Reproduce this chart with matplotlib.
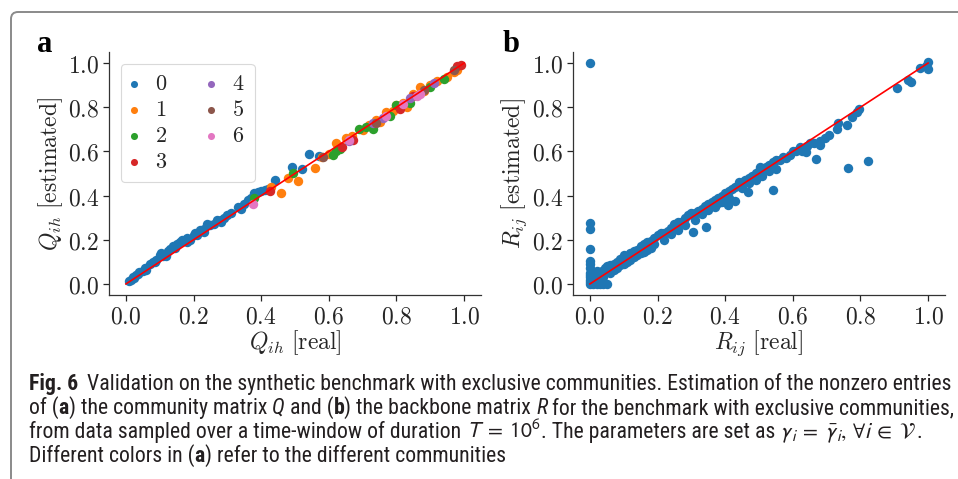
import matplotlib
matplotlib.use('Agg')
import matplotlib.pyplot as plt
from matplotlib.patches import FancyBboxPatch
from matplotlib.transforms import IdentityTransform
from matplotlib.ticker import FuncFormatter
from matplotlib import font_manager as fm

plt.rcParams['mathtext.fontset'] = 'cm'

# ---------------- data ----------------
ticks = [0.0, 0.2, 0.4, 0.6, 0.8, 1.0]
communities = ['0', '1', '2', '3', '4', '5', '6']
comm_colors = ['#1f77b4', '#ff7f0e', '#2ca02c', '#d62728', '#9467bd', '#8c564b', '#e377c2']

q0_real = [0.01, 0.015, 0.02, 0.025, 0.03, 0.035, 0.04, 0.05, 0.055, 0.06, 0.07, 0.08, 0.085,
           0.09, 0.10, 0.105, 0.11, 0.12, 0.125, 0.13, 0.14, 0.145, 0.15, 0.16, 0.165, 0.17,
           0.18, 0.19, 0.20, 0.205, 0.21, 0.22, 0.225, 0.23, 0.24, 0.25, 0.26, 0.27, 0.28,
           0.29, 0.30, 0.31, 0.33, 0.34, 0.35, 0.36, 0.37, 0.38, 0.39, 0.40, 0.41, 0.42,
           0.44, 0.49, 0.52, 0.54, 0.57, 0.12, 0.18, 0.23, 0.06, 0.28]
q0_est = [0.012, 0.02, 0.03, 0.025, 0.04, 0.045, 0.055, 0.06, 0.07, 0.07, 0.09, 0.10, 0.10,
          0.11, 0.13, 0.14, 0.125, 0.135, 0.15, 0.16, 0.17, 0.165, 0.18, 0.19, 0.20, 0.195,
          0.21, 0.20, 0.22, 0.23, 0.22, 0.245, 0.24, 0.25, 0.27, 0.265, 0.27, 0.29, 0.29,
          0.30, 0.31, 0.32, 0.35, 0.34, 0.36, 0.38, 0.39, 0.41, 0.415, 0.42, 0.425, 0.43,
          0.47, 0.53, 0.52, 0.59, 0.58, 0.125, 0.19, 0.235, 0.065, 0.28]
q1_real = [0.43, 0.46, 0.48, 0.51, 0.56, 0.58, 0.60, 0.62, 0.63, 0.65, 0.67, 0.70, 0.72, 0.74,
           0.75, 0.77, 0.79, 0.80, 0.82, 0.83, 0.85, 0.87, 0.88, 0.90, 0.92, 0.95, 0.97, 0.98]
q1_est = [0.44, 0.41, 0.478, 0.467, 0.526, 0.575, 0.59, 0.636, 0.62, 0.66, 0.67, 0.695, 0.72,
          0.74, 0.735, 0.78, 0.785, 0.81, 0.82, 0.80, 0.86, 0.89, 0.875, 0.90, 0.92, 0.935,
          0.96, 0.97]
q2_real = [0.38, 0.495, 0.613, 0.633, 0.62, 0.69, 0.73, 0.78, 0.80, 0.84, 0.90, 0.94, 0.71]
q2_est = [0.39, 0.50, 0.584, 0.609, 0.60, 0.70, 0.70, 0.76, 0.81, 0.82, 0.89, 0.93, 0.71]
q3_real = [0.426, 0.638, 0.672, 0.81, 0.85, 0.98, 0.99]
q3_est = [0.42, 0.621, 0.652, 0.79, 0.85, 0.985, 0.99]
q4_real = [0.66, 0.73, 0.76, 0.84, 0.91]
q4_est = [0.645, 0.73, 0.75, 0.84, 0.91]
q5_real = [0.584, 0.74, 0.88, 0.97]
q5_est = [0.576, 0.73, 0.88, 0.97]
q6_real = [0.377, 0.66, 0.77, 0.82, 0.86, 0.87]
q6_est = [0.362, 0.65, 0.76, 0.815, 0.85, 0.86]

r_real = [0.0, 0.0, 0.0, 0.0, 0.0, 0.0, 0.0, 0.0, 0.0, 0.0, 0.0, 0.0, 0.0,
          0.01, 0.02, 0.03, 0.04, 0.05, 0.01, 0.02, 0.03, 0.02, 0.03, 0.04, 0.01, 0.02,
          0.015, 0.025, 0.035, 0.045, 0.01, 0.005,
          0.05, 0.06, 0.07, 0.08, 0.09, 0.10, 0.11, 0.12, 0.13, 0.14, 0.15, 0.16, 0.17,
          0.18, 0.19, 0.20, 0.06, 0.08, 0.10, 0.12, 0.14, 0.16, 0.18, 0.07, 0.09, 0.11,
          0.13, 0.15, 0.17, 0.19,
          0.21, 0.22, 0.23, 0.24, 0.25, 0.26, 0.27, 0.28, 0.29, 0.30, 0.31, 0.32, 0.33,
          0.34, 0.35, 0.36, 0.37, 0.38, 0.39, 0.40, 0.41, 0.42, 0.43, 0.44, 0.45, 0.46,
          0.47, 0.48, 0.49, 0.50, 0.51, 0.52, 0.53, 0.54, 0.55, 0.22, 0.24, 0.26, 0.28,
          0.31, 0.33, 0.35, 0.37, 0.39, 0.41, 0.45, 0.47, 0.49, 0.51, 0.53, 0.55,
          0.306, 0.343, 0.468, 0.429, 0.409, 0.542, 0.503, 0.38,
          0.562, 0.572, 0.592, 0.60, 0.621, 0.626, 0.639, 0.641, 0.664, 0.669, 0.68, 0.68,
          0.695, 0.708, 0.73, 0.735, 0.76, 0.774, 0.789, 0.796, 0.764, 0.823, 0.58, 0.61,
          0.65, 0.907, 0.942, 0.949, 0.976, 0.999, 1.0, 0.995]
r_est = [1.0, 0.275, 0.25, 0.16, 0.105, 0.09, 0.07, 0.05, 0.04, 0.03, 0.02, 0.01, 0.0,
         0.0, 0.0, 0.0, 0.0, 0.0, 0.02, 0.03, 0.04, 0.01, 0.02, 0.03, 0.05, 0.06,
         0.04, 0.05, 0.06, 0.07, 0.035, 0.015,
         0.08, 0.085, 0.09, 0.10, 0.115, 0.13, 0.125, 0.14, 0.15, 0.155, 0.17, 0.18, 0.19,
         0.195, 0.21, 0.22, 0.05, 0.07, 0.09, 0.11, 0.13, 0.145, 0.165, 0.065, 0.085, 0.10,
         0.12, 0.14, 0.155, 0.18,
         0.23, 0.23, 0.24, 0.255, 0.27, 0.28, 0.28, 0.30, 0.31, 0.32, 0.32, 0.33, 0.34,
         0.355, 0.36, 0.37, 0.38, 0.39, 0.40, 0.41, 0.42, 0.43, 0.44, 0.46, 0.46, 0.47,
         0.48, 0.49, 0.50, 0.51, 0.52, 0.53, 0.54, 0.55, 0.56, 0.20, 0.225, 0.245, 0.265,
         0.29, 0.315, 0.335, 0.35, 0.37, 0.39, 0.435, 0.455, 0.47, 0.49, 0.51, 0.52,
         0.236, 0.26, 0.415, 0.377, 0.359, 0.426, 0.529, 0.365,
         0.559, 0.574, 0.582, 0.60, 0.62, 0.60, 0.597, 0.625, 0.638, 0.567, 0.645, 0.627,
         0.66, 0.673, 0.703, 0.728, 0.718, 0.756, 0.779, 0.794, 0.524, 0.555, 0.57, 0.60,
         0.64, 0.885, 0.923, 0.915, 0.976, 1.003, 0.974, 0.985]

caption_lines = [
    [('Fig. 6', 'b', False), ('Validation on the synthetic benchmark with exclusive communities. '
                              'Estimation of the nonzero entries', 'r', 'wide')],
    [('of (', 'r', False), ('a', 'b', False), (') the community matrix', 'r', False), ('Q', 'i', True),
     ('and (', 'r', True), ('b', 'b', False), (') the backbone matrix', 'r', False), ('R', 'i', True),
     ('for the benchmark with exclusive communities,', 'r', True)],
    [('from data sampled over a time-window of duration', 'r', False), (r'$T\;=\;10^6$', 'm', True),
     ('. The parameters are set as', 'r', False),
     (r'$\gamma_i\;=\;\bar{\gamma}_i,\, \forall i\;\in\;\mathcal{V}$', 'm', True),
     ('.', 'r', False)],
    [('Different colors in (', 'r', False), ('a', 'b', False), (') refer to the different communities', 'r', False)],
]

# ---------------- figure ----------------
W, H = 958, 479
fig = plt.figure(figsize=(W / 100, H / 100), dpi=100)
fig.patch.set_facecolor('white')


def ax_rect(l, t, r, b):
    return [l / W, 1 - b / H, (r - l) / W, (b - t) / H]


axa = fig.add_axes(ax_rect(109, 52, 481, 295))
axb = fig.add_axes(ax_rect(573, 52, 945, 295))

txt_color = '#262626'
fmt = FuncFormatter(lambda v, p: r'$%.1f$' % v)
for ax in (axa, axb):
    ax.set_xlim(-0.05, 1.05)
    ax.set_ylim(-0.05, 1.05)
    ax.set_xticks(ticks)
    ax.set_yticks(ticks)
    ax.xaxis.set_major_formatter(fmt)
    ax.yaxis.set_major_formatter(fmt)
    for s in ('top', 'right'):
        ax.spines[s].set_visible(False)
    for s in ('left', 'bottom'):
        ax.spines[s].set_color('#333333')
        ax.spines[s].set_linewidth(0.9)
    ax.tick_params(labelsize=17, colors=txt_color, length=4, width=0.9, pad=3)

q_real = [q0_real, q1_real, q2_real, q3_real, q4_real, q5_real, q6_real]
q_est = [q0_est, q1_est, q2_est, q3_est, q4_est, q5_est, q6_est]
for k in range(len(communities)):
    axa.scatter(q_real[k], q_est[k], s=46, color=comm_colors[k], linewidths=0,
                label='$%s$' % communities[k], zorder=2)
axa.plot([0, 1], [0, 1], color='red', lw=1.2, zorder=3)

axb.scatter(r_real, r_est, s=46, color=comm_colors[0], linewidths=0, zorder=2)
axb.plot([0, 1], [0, 1], color='red', lw=1.2, zorder=3)

axa.set_xlabel(r'$Q_{ih}\ \mathrm{[real]}$', fontsize=17, color=txt_color, labelpad=0)
axa.set_ylabel(r'$Q_{ih}\ \mathrm{[estimated]}$', fontsize=17, color=txt_color, labelpad=2)
axb.set_xlabel(r'$R_{ij}\ \mathrm{[real]}$', fontsize=17, color=txt_color, labelpad=0)
axb.set_ylabel(r'$R_{ij}\ \mathrm{[estimated]}$', fontsize=17, color=txt_color, labelpad=2)

leg = axa.legend(ncol=2, loc='upper left',
                 bbox_to_anchor=((121 - 109) / 372, (295 - 64) / 243),
                 borderaxespad=0, fontsize=16, handlelength=0.3, handletextpad=0.8,
                 columnspacing=1.8, borderpad=0.45, labelspacing=0.27, markerscale=0.75,
                 frameon=True, fancybox=True)
leg.get_frame().set_edgecolor('#d0d0d0')
leg.get_frame().set_linewidth(0.8)
for t in leg.get_texts():
    t.set_color(txt_color)

ident = IdentityTransform()
fig.text(37, H - 52, 'a', transform=ident, fontsize=22, fontweight='bold',
         family='Liberation Serif', va='baseline', ha='left')
fig.text(503, H - 52, 'b', transform=ident, fontsize=22, fontweight='bold',
         family='Liberation Serif', va='baseline', ha='left')

# border box
box = FancyBboxPatch((11, -60), 1100, H - 12 + 60, boxstyle='round,pad=0,rounding_size=7',
                     transform=ident, fill=False, edgecolor='#8a8a8a', lw=1.4, clip_on=False)
fig.add_artist(box)

# ---------------- caption ----------------
cap_font = 'DejaVu Sans'
for cand in ['Roboto Condensed', 'Liberation Sans Narrow', 'Open Sans Condensed', 'Liberation Sans']:
    try:
        fm.findfont(fm.FontProperties(family=cand), fallback_to_default=False)
        cap_font = cand
        break
    except Exception:
        continue

renderer = fig.canvas.get_renderer()


def props(style, size):
    d = dict(family=cap_font, fontsize=size, color='#231f20')
    if style == 'b':
        d['fontweight'] = 'bold'
    elif style == 'i':
        d['style'] = 'italic'
    elif style == 'm':
        d['math_fontfamily'] = 'stixsans'
    return d


def width(s, style, size):
    t = fig.text(0, 0, s, transform=ident, **props(style, size))
    w = t.get_window_extent(renderer).width
    t.remove()
    return w


def line_width(pieces, size):
    sp = width('a a', 'r', size) - width('aa', 'r', size)
    tot = 0
    for s, st, spb in pieces:
        if spb == 'wide':
            tot += 1.8 * sp
        elif spb:
            tot += sp
        tot += width(s, st, size)
    return tot


base = 12.0
scale = 924.0 / line_width(caption_lines[0], base)
csize = base * scale

baselines = [390, 414, 438, 462]
for pieces, bl in zip(caption_lines, baselines):
    sp = width('a a', 'r', csize) - width('aa', 'r', csize)
    x = 29
    for s, st, spb in pieces:
        if spb == 'wide':
            x += 1.8 * sp
        elif spb:
            x += sp
        t = fig.text(x, H - bl, s, transform=ident, va='baseline', ha='left', **props(st, csize))
        x += t.get_window_extent(renderer).width

fig.savefig('out.png', dpi=100)
